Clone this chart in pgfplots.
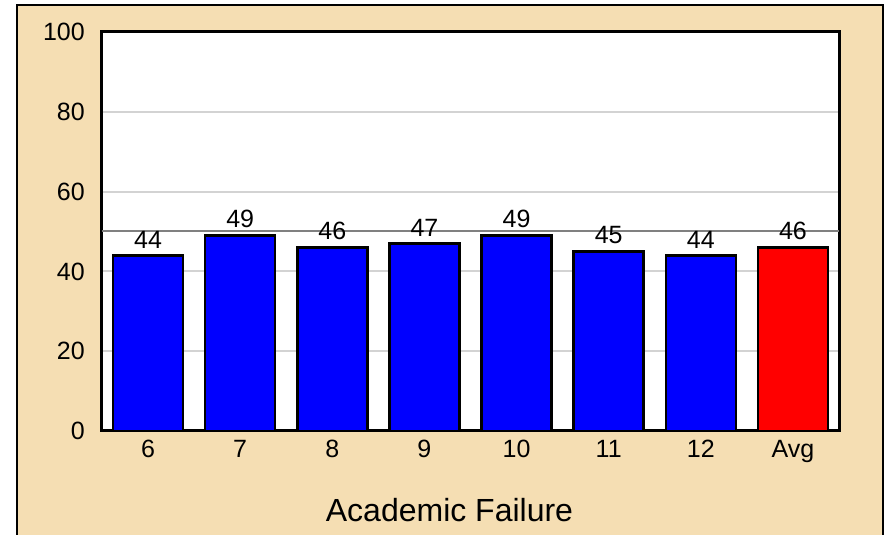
\documentclass[border=0pt]{standalone}
\usepackage{pgfplots}
\pgfplotsset{compat=1.18}
\usepackage{fontspec}
\setmainfont{Liberation Sans}
\definecolor{wheatbg}{HTML}{F5DEB3}
\definecolor{gridgray}{HTML}{D3D3D3}
\definecolor{midgray}{HTML}{808080}
\begin{document}
\begin{tikzpicture}
\useasboundingbox (-102pt,-104pt) rectangle (784pt,431pt);
\fill[white] (-102pt,-104pt) rectangle (784pt,431pt);
\fill[wheatbg] (-85pt,-110pt) rectangle (781pt,426pt);
\draw[black, line width=2pt] (-85pt,-110pt) -- (-85pt,426pt) -- (781pt,426pt) -- (781pt,-110pt);
\begin{axis}[
  at={(0pt,0pt)}, anchor=south west,
  scale only axis, width=737pt, height=399pt,
  xmin=-0.5, xmax=7.5, ymin=0, ymax=100,
  ytick={0,20,40,60,80,100},
  xtick={0,1,2,3,4,5,6,7},
  xticklabels={6,7,8,9,10,11,12,Avg},
  major tick length=0pt,
  ymajorgrids,
  grid style={gridgray, line width=2pt},
  axis line style={line width=3pt, black},
  axis background/.style={fill=white},
  /pgf/number format/assume math mode=true,
  ticklabel style={font=\fontsize{25}{29}\selectfont, inner sep=0pt},
  yticklabel style={anchor=east, xshift=-17pt},
  xticklabel style={anchor=north, yshift=-9pt},
  every node near coord/.append style={font=\fontsize{25}{29}\selectfont, inner sep=0pt, yshift=6pt, black},
]
\addplot[sharp plot, no markers, draw=midgray, line width=2pt, forget plot] coordinates {(-0.5,50) (7.5,50)};
\addplot[ybar, bar width=70pt, fill=blue, draw=black, line width=2.5pt, nodes near coords] coordinates {
(0,44) (1,49) (2,46) (3,47) (4,49) (5,45) (6,44)};
\addplot[ybar, bar width=70pt, fill=red, draw=black, line width=2.5pt, nodes near coords] coordinates {
(7,46)};
\end{axis}
\node[anchor=base, font=\fontsize{32}{38}\selectfont] at (347.5pt,-90pt) {Academic Failure};
\end{tikzpicture}
\end{document}
